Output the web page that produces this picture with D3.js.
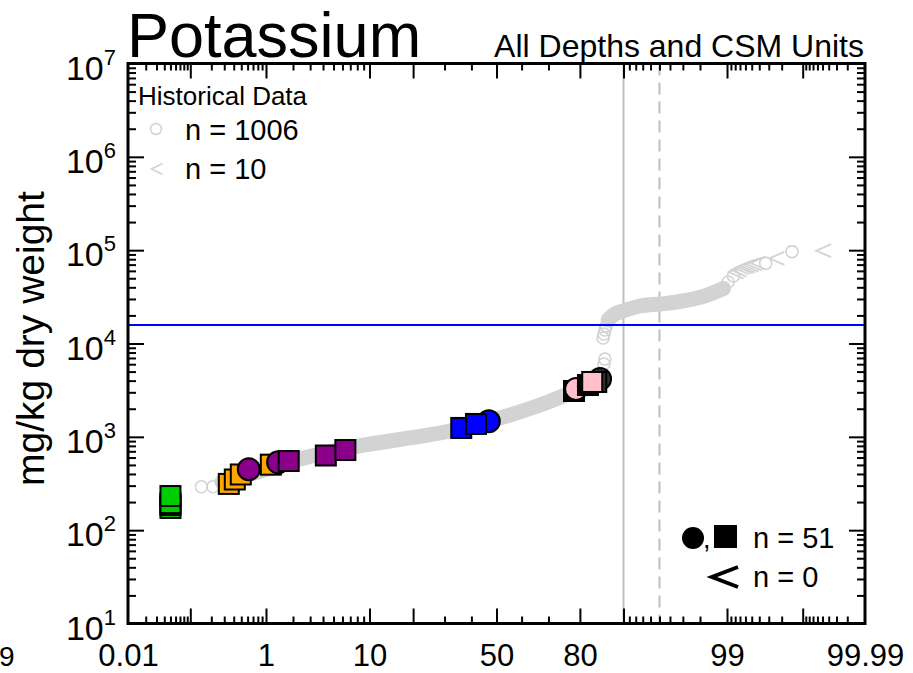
<!DOCTYPE html>
<html><head><meta charset="utf-8">
<script src="https://cdn.jsdelivr.net/npm/d3@7"></script>
<style>
body{margin:0;background:#fff}
svg{display:block}
text{font-family:"Liberation Sans",Arial,Helvetica,sans-serif;fill:#000}
</style>
</head><body>
<svg id="chart" width="913" height="673"></svg>
<script>
// ---------------- data ----------------
const titleText = "Potassium";
const subtitleText = "All Depths and CSM Units";
const yAxisTitle = "mg/kg dry weight";

const xLabelPct = [0.01, 1, 10, 50, 80, 99, 99.99];
const xLabelText = ["0.01", "1", "10", "50", "80", "99", "99.99"];
const xMajorPct = [0.1, 1, 10, 20, 50, 80, 90, 99, 99.9];
const xMinorPct = [0.02,0.03,0.04,0.05,0.06,0.07,0.08,0.09,
  0.2,0.3,0.4,0.5,0.6,0.7,0.8,0.9,
  2,3,4,5,6,7,8,9,30,40,60,70,
  91,92,93,94,95,96,97,98,
  99.1,99.2,99.3,99.4,99.5,99.6,99.7,99.8,
  99.91,99.92,99.93,99.94,99.95,99.96,99.97,99.98];
const yDecadeExp = [1, 2, 3, 4, 5, 6, 7];
const yMinorMult = [2, 3, 4, 5, 6, 7, 8, 9];

// historical data: dense band of overlapping circles (read along its centre)
const histBandLowPct = [0.28, 0.97, 2.36, 4.63, 9.2, 19.1, 31.9, 51.4, 67.0, 74.9, 82.7, 84.7];
const histBandLowVal = [328, 442, 579, 689, 818, 973, 1156, 1592, 2193, 2740, 3590, 4064];
const histBandHighPct = [87.0, 88.4, 89.9, 92.6, 95.1, 96.3, 98.15, 98.63, 98.9];
const histBandHighVal = [17880, 20720, 22300, 25230, 26500, 27480, 31890, 35650, 38800];
// historical data: individually visible circles
const histCirclePct = [0.145, 0.211, 86.1, 86.3, 85.9, 86.1, 86.3, 86.6,
  98.28, 98.53, 98.74, 98.89, 99.03, 99.16, 99.67, 99.857];
const histCircleVal = [292, 292, 6030, 6810, 11460, 12640, 13960, 15420,
  32280, 33880, 36480, 39330, 45600, 52840, 72280, 96380];
// historical non-detects (<)
const histLessPct = [99.22, 99.28, 99.34, 99.40, 99.446, 99.49, 99.535, 99.587, 99.767, 99.952];
const histLessVal = [58300, 61200, 64400, 66100, 67600, 69300, 71100, 72900, 81800, 98700];

// current data (drawing order)
const ptPct = [0.05, 0.05, 0.05, 0.05,
  0.345, 0.413, 0.493, 0.621, 1.137, 1.376, 1.80, 4.25, 6.36,
  46.9, 36.1, 41.8,
  85.2, 84.3, 78.3, 78.9, 82.2, 83.3];
const ptVal = [173, 186, 195, 232,
  313, 349, 395, 449, 503, 533, 551, 631, 722,
  1468, 1245, 1374,
  4170, 3870, 3098, 3258, 3590, 3870];
const ptShape = ["square","square","square","square",
  "square","square","square","circle","square","circle","square","square","square",
  "circle","square","square",
  "circle","square","square","circle","square","square"];
const ptGroup = ["A","A","A","A",
  "B","B","B","C","B","C","C","C","C",
  "D","D","D",
  "F","F","E","G","E","G"];
const groupColor = {A:"#00CD00", B:"#FFA500", C:"#8B008B", D:"#0000FF", E:"#000000", F:"#333333", G:"#FFC0CB"};

const thresholdValue = 15800;
const solidRefPct = 90;
const dashedRefPct = 95;

const histLegendTitle = "Historical Data";
const histLegendN = ["n = 1006", "n = 10"];
const curLegendN = ["n = 51", "n = 0"];

// ---------------- helpers ----------------
function probit(p){
  const a=[-3.969683028665376e+01,2.209460984245205e+02,-2.759285104469687e+02,1.383577518672690e+02,-3.066479806614716e+01,2.506628277459239e+00];
  const b=[-5.447609879822406e+01,1.615858368580409e+02,-1.556989798598866e+02,6.680131188771972e+01,-1.328068155288572e+01];
  const c=[-7.784894002430293e-03,-3.223964580411365e-01,-2.400758277161838e+00,-2.549732539343734e+00,4.374664141464968e+00,2.938163982698783e+00];
  const d=[7.784695709041462e-03,3.224671290700398e-01,2.445134137142996e+00,3.754408661907416e+00];
  const pl=0.02425, ph=1-pl; let q,r;
  if(p<pl){q=Math.sqrt(-2*Math.log(p));return (((((c[0]*q+c[1])*q+c[2])*q+c[3])*q+c[4])*q+c[5])/((((d[0]*q+d[1])*q+d[2])*q+d[3])*q+1);}
  if(p<=ph){q=p-0.5;r=q*q;return (((((a[0]*r+a[1])*r+a[2])*r+a[3])*r+a[4])*r+a[5])*q/(((((b[0]*r+b[1])*r+b[2])*r+b[3])*r+b[4])*r+1);}
  q=Math.sqrt(-2*Math.log(1-p));return -(((((c[0]*q+c[1])*q+c[2])*q+c[3])*q+c[4])*q+c[5])/((((d[0]*q+d[1])*q+d[2])*q+d[3])*q+1);
}

// ---------------- layout ----------------
const L = 128, R = 865, T = 63.5, B = 623.5;
const svg = d3.select("#chart");
const xz = d3.scaleLinear().domain([probit(0.0001), probit(0.9999)]).range([L, R]);
const x = pct => xz(probit(pct / 100));
const y = d3.scaleLog().domain([10, 1e7]).range([B, T]);

const zOf = arr => arr.map(p => probit(p / 100));
const yMinorVals = [];
yDecadeExp.slice(0, -1).forEach(e => yMinorMult.forEach(m => yMinorVals.push(m * Math.pow(10, e))));
const yMajorVals = yDecadeExp.map(e => Math.pow(10, e));

// reference lines (under data)
svg.append("line").attr("x1", x(solidRefPct)).attr("x2", x(solidRefPct)).attr("y1", T).attr("y2", B)
  .attr("stroke", "#BEBEBE").attr("stroke-width", 2);
svg.append("line").attr("x1", x(dashedRefPct)).attr("x2", x(dashedRefPct)).attr("y1", T).attr("y2", B)
  .attr("stroke", "#BEBEBE").attr("stroke-width", 2).attr("stroke-dasharray", "12,7");

// historical band
const histColor = "#D3D3D3";
const bandLine = d3.line().x(d => x(d[0])).y(d => y(d[1])).curve(d3.curveCatmullRom);
[[histBandLowPct, histBandLowVal], [histBandHighPct, histBandHighVal]].forEach(([ps, vs]) => {
  const pts = ps.map((p, i) => [p, vs[i]]);
  svg.append("path").attr("d", bandLine(pts)).attr("fill", "none")
    .attr("stroke", histColor).attr("stroke-width", 15).attr("stroke-linecap", "round").attr("stroke-linejoin", "round");
});
svg.append("g").selectAll("circle").data(histCirclePct.map((p, i) => [p, histCircleVal[i]])).join("circle")
  .attr("cx", d => x(d[0])).attr("cy", d => y(d[1])).attr("r", 6)
  .attr("fill", "none").attr("stroke", histColor).attr("stroke-width", 1.6);
const lessPath = (cx, cy, w, h) => `M${cx + w / 2},${cy - h / 2}L${cx - w / 2},${cy}L${cx + w / 2},${cy + h / 2}`;
svg.append("g").selectAll("path").data(histLessPct.map((p, i) => [p, histLessVal[i]])).join("path")
  .attr("d", d => lessPath(x(d[0]), y(d[1]), 15, 13)).attr("fill", "none")
  .attr("stroke", histColor).attr("stroke-width", 1.8);

// blue threshold line
svg.append("line").attr("x1", L).attr("x2", R).attr("y1", y(thresholdValue)).attr("y2", y(thresholdValue))
  .attr("stroke", "#0000FF").attr("stroke-width", 2);

// current points
const pts = ptPct.map((p, i) => ({p, v: ptVal[i], s: ptShape[i], g: ptGroup[i]}));
const pg = svg.append("g");
pts.forEach(d => {
  const cx = x(d.p), cy = y(d.v);
  if (d.s === "circle") {
    pg.append("circle").attr("cx", cx).attr("cy", cy).attr("r", 11)
      .attr("fill", groupColor[d.g]).attr("stroke", "#000").attr("stroke-width", 2);
  } else {
    pg.append("rect").attr("x", cx - 10).attr("y", cy - 10).attr("width", 20).attr("height", 20)
      .attr("fill", groupColor[d.g]).attr("stroke", "#000").attr("stroke-width", 2);
  }
});

// axes
function styleAxis(g, w) {
  g.select(".domain").remove();
  g.selectAll(".tick line").attr("stroke", "#000").attr("stroke-width", w);
}
svg.append("g").attr("transform", `translate(0,${B})`)
  .call(d3.axisBottom(xz).tickValues(zOf(xMajorPct)).tickSize(-15).tickFormat("")).call(g => styleAxis(g, 2));
svg.append("g").attr("transform", `translate(0,${B})`)
  .call(d3.axisBottom(xz).tickValues(zOf(xMinorPct)).tickSize(-7).tickFormat("")).call(g => styleAxis(g, 2));
svg.append("g").attr("transform", `translate(0,${T})`)
  .call(d3.axisTop(xz).tickValues(zOf(xMajorPct)).tickSize(-15).tickFormat("")).call(g => styleAxis(g, 2));
svg.append("g").attr("transform", `translate(0,${T})`)
  .call(d3.axisTop(xz).tickValues(zOf(xMinorPct)).tickSize(-7).tickFormat("")).call(g => styleAxis(g, 2));
svg.append("g").attr("transform", `translate(${L},0)`)
  .call(d3.axisLeft(y).tickValues(yMajorVals).tickSize(-16).tickFormat("")).call(g => styleAxis(g, 2));
svg.append("g").attr("transform", `translate(${L},0)`)
  .call(d3.axisLeft(y).tickValues(yMinorVals).tickSize(-8).tickFormat("")).call(g => styleAxis(g, 2));
svg.append("g").attr("transform", `translate(${R},0)`)
  .call(d3.axisRight(y).tickValues(yMajorVals).tickSize(-16).tickFormat("")).call(g => styleAxis(g, 2));
svg.append("g").attr("transform", `translate(${R},0)`)
  .call(d3.axisRight(y).tickValues(yMinorVals).tickSize(-8).tickFormat("")).call(g => styleAxis(g, 2));

svg.append("rect").attr("x", L).attr("y", T).attr("width", R - L).attr("height", B - T)
  .attr("fill", "none").attr("stroke", "#000").attr("stroke-width", 3);

// x labels
const xl = svg.append("g").attr("transform", `translate(0,${B})`)
  .call(d3.axisBottom(xz).tickValues(zOf(xLabelPct)).tickSize(0).tickPadding(0)
    .tickFormat((d, i) => xLabelText[i]));
xl.select(".domain").remove();
xl.selectAll(".tick text").attr("y", 42).attr("dy", null).attr("font-size", 31)
  .attr("font-family", '"Liberation Sans",Arial,sans-serif').attr("fill", "#000");
// partially visible label at far left edge
svg.append("text").attr("x", -1).attr("y", B + 42).attr("text-anchor", "start").attr("font-size", 28).text("9");

// y labels
const yl = svg.append("g");
yDecadeExp.forEach(e => {
  const t = yl.append("text").attr("x", 116).attr("y", y(Math.pow(10, e)) + 16)
    .attr("text-anchor", "end").attr("font-size", 34);
  t.append("tspan").text("10");
  t.append("tspan").attr("dy", -15).attr("font-size", 22).text(String(e));
});

// titles
svg.append("text").attr("x", 127).attr("y", 57).attr("font-size", 63).text(titleText);
svg.append("text").attr("x", 864).attr("y", 57).attr("text-anchor", "end").attr("font-size", 32).text(subtitleText);
svg.append("text").attr("transform", `translate(44,${(T + B) / 2 - 5}) rotate(-90)`)
  .attr("text-anchor", "middle").attr("font-size", 39).text(yAxisTitle);

// historical legend
svg.append("text").attr("x", 138).attr("y", 105).attr("font-size", 26).text(histLegendTitle);
svg.append("circle").attr("cx", 156).attr("cy", 129).attr("r", 5.5).attr("fill", "none")
  .attr("stroke", histColor).attr("stroke-width", 1.6);
svg.append("path").attr("d", lessPath(157, 169, 11, 11)).attr("fill", "none")
  .attr("stroke", histColor).attr("stroke-width", 1.6);
svg.append("text").attr("x", 185).attr("y", 140).attr("font-size", 29).text(histLegendN[0]);
svg.append("text").attr("x", 185).attr("y", 179).attr("font-size", 29).text(histLegendN[1]);

// current legend
svg.append("circle").attr("cx", 693).attr("cy", 538).attr("r", 11).attr("fill", "#000");
svg.append("text").attr("x", 703).attr("y", 548).attr("font-size", 27).text(",");
svg.append("rect").attr("x", 714).attr("y", 525).attr("width", 23).attr("height", 23).attr("fill", "#000");
svg.append("text").attr("x", 753).attr("y", 548).attr("font-size", 29).text(curLegendN[0]);
svg.append("path").attr("d", lessPath(725, 577, 26, 20)).attr("fill", "none")
  .attr("stroke", "#000").attr("stroke-width", 4);
svg.append("text").attr("x", 753).attr("y", 587).attr("font-size", 29).text(curLegendN[1]);
</script>
</body></html>
